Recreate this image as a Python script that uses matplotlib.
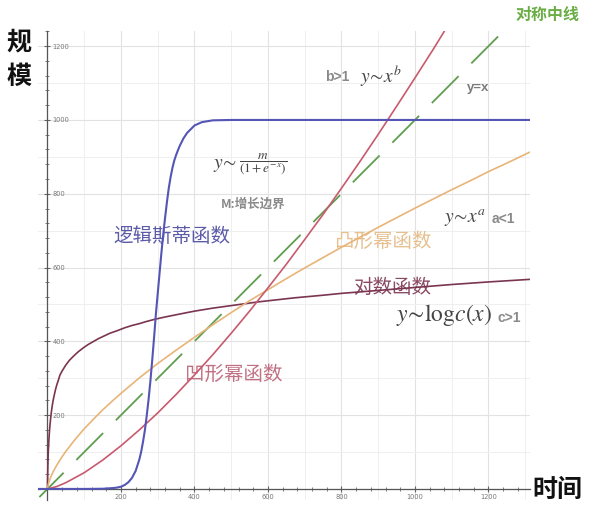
import matplotlib
matplotlib.use('Agg')
import matplotlib.pyplot as plt
from matplotlib.ticker import MultipleLocator

plt.rcParams['font.family'] = ['Noto Sans CJK SC', 'DejaVu Sans']
plt.rcParams['mathtext.fontset'] = 'stix'
plt.rcParams['axes.unicode_minus'] = False

# ---- data ----
logistic_x = [-25, 0, 100, 150, 180, 190, 200, 210, 220, 230, 240, 250, 255, 260, 265, 270,
              275, 280, 285, 290, 295, 300, 305, 310, 315, 320, 325, 330, 335, 340, 345,
              350, 355, 360, 370, 380, 400, 420, 450, 500, 1313]
logistic_y = [0, 0, 0, 0.5, 2.5, 3.8, 6, 10.7, 18, 30, 49, 80, 101, 128, 159, 198,
              242, 292, 349, 410, 474, 530, 585, 640, 690, 735, 777, 815, 845, 870, 890,
              905, 918, 930, 950, 965, 985, 994, 999, 1000, 1000]

convex_x = [0, 25, 50, 100, 150, 200, 250, 300, 350, 400, 450, 500, 550, 600, 650, 700,
            750, 800, 850, 900, 950, 1000, 1050, 1100]
convex_y = [0, 6.4, 17, 44, 78, 117, 160, 206, 256, 309, 364, 422, 482, 545, 609, 676,
            744, 815, 887, 961, 1037, 1114, 1192, 1273]

concave_x = [0, 2, 5, 10, 15, 25, 35, 50, 75, 100, 125, 150, 175, 200, 250, 300, 350, 400,
             450, 500, 550, 600, 650, 700, 750, 800, 850, 900, 950, 1000, 1050, 1100, 1150,
             1200, 1250, 1313]
concave_y = [0, 11.8, 21.8, 35, 45.6, 64, 80, 102, 134, 163, 189, 214, 237, 259, 301, 340,
             376, 411, 445, 478, 510, 540, 570, 599, 627, 655, 682, 709, 735, 761, 786, 811,
             835, 860, 883, 913]

log_x = [0, 0.3, 0.7, 1, 1.5, 2, 2.5, 3.5, 5, 6.5, 8, 10, 12, 14, 16, 19, 22, 25, 29, 34,
         40, 50, 60, 72, 84, 97, 110, 124, 138, 155, 170, 190, 211, 230, 250, 270, 293, 320,
         350, 375, 401, 450, 501, 574, 673, 750, 800, 900, 1000, 1100, 1200, 1313]
log_y = [0, 25, 48, 62, 80, 95, 107, 127, 151, 170, 186, 204, 219, 232, 243, 257, 270, 281,
         293, 309, 320, 336, 349, 361, 372, 382, 391, 399, 407, 415, 422, 429, 437, 443, 448,
         454, 460, 466, 472, 477, 482, 490, 497, 507, 518, 525, 530, 538, 546, 554, 561, 568]

diag_x = [-22, 1240]
diag_y = [-22, 1240]

x_ticks = [200, 400, 600, 800, 1000, 1200]
x_tick_labels = ['200', '400', '600', '800', '1000', '1200']
y_ticks = [200, 400, 600, 800, 1000, 1200]
y_tick_labels = ['200', '400', '600', '800', '1000', '1200']

# ---- figure ----
W, H = 600, 514
fig = plt.figure(figsize=(W / 100, H / 100), dpi=100)
fig.patch.set_facecolor('white')
rect = [38.3 / W, 1 - 500 / H, (530 - 38.3) / W, (500 - 31.4) / H]
xlim = (-25, 1313)
ylim = (-30, 1240)

# background grid axes
gax = fig.add_axes(rect, zorder=0)
gax.set_xlim(*xlim)
gax.set_ylim(*ylim)
gax.set_facecolor('white')
gax.xaxis.set_major_locator(MultipleLocator(200))
gax.yaxis.set_major_locator(MultipleLocator(200))
gax.xaxis.set_minor_locator(MultipleLocator(100))
gax.yaxis.set_minor_locator(MultipleLocator(100))
gax.grid(True, which='major', color='#e2e2e2', lw=0.8)
gax.grid(True, which='minor', color='#efefef', lw=0.7)
for s in gax.spines.values():
    s.set_visible(False)
gax.tick_params(which='both', length=0, labelbottom=False, labelleft=False)

# main axes
ax = fig.add_axes(rect, zorder=1)
ax.patch.set_alpha(0)
ax.set_xlim(*xlim)
ax.set_ylim(*ylim)
ax.spines['top'].set_visible(False)
ax.spines['left'].set_visible(False)
ax.spines['right'].set_position(('data', 0))
ax.spines['bottom'].set_position(('data', 0))
for k in ('right', 'bottom'):
    ax.spines[k].set_color('#555555')
    ax.spines[k].set_linewidth(0.9)
ax.yaxis.set_ticks_position('right')
ax.xaxis.set_ticks_position('bottom')
ax.set_xticks(x_ticks)
ax.set_xticklabels(x_tick_labels)
ax.set_yticks(y_ticks)
ax.set_yticklabels(y_tick_labels)
ax.xaxis.set_minor_locator(MultipleLocator(40))
ax.yaxis.set_minor_locator(MultipleLocator(40))
ax.tick_params(which='both', direction='inout', color='#666666',
               labelsize=4.8, labelcolor='#777777')
ax.tick_params(which='major', length=4, width=0.8, pad=1.5)
ax.tick_params(which='minor', length=3, width=0.6)
for lbl in ax.get_xticklabels() + ax.get_yticklabels():
    lbl.set_family('DejaVu Sans')

ax.plot(diag_x, diag_y, color='#5e9e4e', lw=1.3, linestyle=(2, (21, 10)), zorder=2)
ax.plot(log_x, log_y, color='#7a3550', lw=1.2, zorder=3)
ax.plot(concave_x, concave_y, color='#e8b478', lw=1.2, zorder=3)
ax.plot(convex_x, convex_y, color='#c85a6e', lw=1.2, zorder=3)
ax.plot(logistic_x, logistic_y, color='#5555b5', lw=1.5, zorder=4)


def T(px, py, s, **kw):
    kw.setdefault('ha', 'center')
    kw.setdefault('va', 'center')
    kw.setdefault('zorder', 5)
    ax.text(px / W, 1 - py / H, s, transform=fig.transFigure, **kw)


T(19, 42, '规', fontsize=18, fontweight='bold', color='#111111')
T(19, 77, '模', fontsize=18, fontweight='bold', color='#111111')
T(557, 490, '时间', fontsize=18, fontweight='bold', color='#111111')
T(548, 15, '对称中线', fontsize=11.5, fontweight='bold', color='#6aad45')

T(337, 77, 'b>1', fontsize=10, fontweight='bold', color='#8a8a8a', family='Liberation Sans')
T(381, 76, r'$y\!\sim\!x^{b}$', fontsize=14, color='#444444')
T(478, 88, 'y=x', fontsize=9.5, fontweight='bold', color='#7a7a7a', family='Liberation Sans')

T(237, 163, r'$y\!\sim$', fontsize=14, color='#444444', ha='right')
T(239, 164, r'$\dfrac{m}{(1+e^{-x})}$', fontsize=9.5, color='#444444', ha='left')
T(253, 204, 'M:增长边界', fontsize=9, fontweight='bold', color='#8a8a8a')
T(172, 236, '逻辑斯蒂函数', fontsize=14, color='#5b5ba8', zorder=1)

T(383, 241, '凸形幂函数', fontsize=14, color='#e6c08f', zorder=1)
T(465, 218, r'$y\!\sim\!x^{a}$', fontsize=14, color='#444444')
T(503, 219, 'a<1', fontsize=10, fontweight='bold', color='#8a8a8a', family='Liberation Sans')

T(392, 287, '对数函数', fontsize=14, color='#8a4a62', zorder=1)
T(444, 315, r'$y\!\sim\!\mathrm{log}c(x)$', fontsize=17, color='#444444')
T(509, 318, 'c>1', fontsize=10, fontweight='bold', color='#8a8a8a', family='Liberation Sans')

T(234, 374, '凹形幂函数', fontsize=14, color='#c07082', zorder=1)

fig.savefig('out.png', dpi=100)
